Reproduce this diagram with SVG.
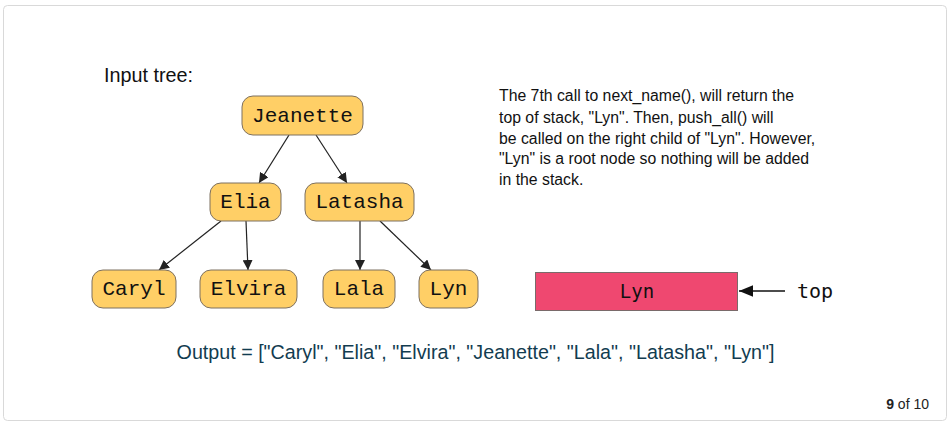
<svg xmlns="http://www.w3.org/2000/svg" width="952" height="427" viewBox="0 0 952 427">
<defs>
<marker id="ah" viewBox="0 0 10 10" refX="10" refY="5" markerWidth="10" markerHeight="10" markerUnits="userSpaceOnUse" orient="auto">
<path d="M0,0 L10,5 L0,10 z" fill="#222"/>
</marker>
<marker id="ah2" viewBox="0 0 12 10" refX="12" refY="5" markerWidth="14" markerHeight="12" markerUnits="userSpaceOnUse" orient="auto">
<path d="M0,0 L12,5 L0,10 z" fill="#111"/>
</marker>
</defs>
<style>
.node rect{fill:#ffcf66;stroke:#7d7060;stroke-width:1}
.node text{font-family:"Liberation Mono",monospace;font-size:21px;fill:#111;text-anchor:middle;dominant-baseline:central}
.edge{stroke:#222;stroke-width:1.2;fill:none;marker-end:url(#ah)}
.sans{font-family:"Liberation Sans",Arial,sans-serif}
</style>
<rect x="3.5" y="5.5" width="943" height="415" rx="4" fill="#fff" stroke="#d9d9d9"/>
<text class="sans" x="104" y="82" font-size="19.8" fill="#111">Input tree:</text>
<g id="connectors">
<line class="edge" x1="289" y1="135" x2="259" y2="183"/>
<line class="edge" x1="316" y1="135" x2="347" y2="183"/>
<line class="edge" x1="221" y1="221" x2="159" y2="270"/>
<line class="edge" x1="246" y1="221" x2="248" y2="270"/>
<line class="edge" x1="360" y1="221" x2="360" y2="270"/>
<line class="edge" x1="380" y1="221" x2="431" y2="270"/>
<line x1="785" y1="291" x2="739" y2="291" stroke="#111" stroke-width="1.5" marker-end="url(#ah2)"/>
</g>
<g id="n-jeanette" class="node"><rect x="242" y="96" width="121" height="39" rx="11"/><text x="302.5" y="116">Jeanette</text></g>
<g id="n-elia" class="node"><rect x="210" y="183" width="71" height="38" rx="11"/><text x="245.5" y="202">Elia</text></g>
<g id="n-latasha" class="node"><rect x="305" y="183" width="109" height="38" rx="11"/><text x="359.5" y="202">Latasha</text></g>
<g id="n-caryl" class="node"><rect x="92" y="270" width="84" height="38" rx="11"/><text x="134" y="289">Caryl</text></g>
<g id="n-elvira" class="node"><rect x="200" y="270" width="97" height="38" rx="11"/><text x="248.5" y="289">Elvira</text></g>
<g id="n-lala" class="node"><rect x="323" y="270" width="72" height="38" rx="11"/><text x="359" y="289">Lala</text></g>
<g id="n-lyn" class="node"><rect x="419" y="270" width="59" height="38" rx="11"/><text x="448.5" y="289">Lyn</text></g>
<g id="stack">
<rect x="535.5" y="272.5" width="202" height="38" fill="#ef4870" stroke="#7a6a6a"/>
<text x="637" y="291" font-family="DejaVu Sans Mono,monospace" font-size="19" fill="#111" text-anchor="middle" dominant-baseline="central">Lyn</text>
</g>
<text x="797" y="291" font-family="DejaVu Sans Mono,monospace" font-size="20" fill="#111" dominant-baseline="central">top</text>
<g class="sans" font-size="15.8" fill="#111">
<text x="499" y="101">The 7th call to next_name(), will return the</text>
<text x="499" y="123">top of stack, "Lyn". Then, push_all() will</text>
<text x="499" y="144">be called on the right child of "Lyn". However,</text>
<text x="499" y="164">"Lyn" is a root node so nothing will be added</text>
<text x="499" y="185">in the stack.</text>
</g>
<text class="sans" x="475.5" y="359" font-size="19.7" fill="#123c50" text-anchor="middle">Output = ["Caryl", "Elia", "Elvira", "Jeanette", "Lala", "Latasha", "Lyn"]</text>
<text class="sans" x="929" y="409" font-size="14" fill="#222" text-anchor="end"><tspan font-weight="bold">9</tspan> of 10</text>
</svg>
